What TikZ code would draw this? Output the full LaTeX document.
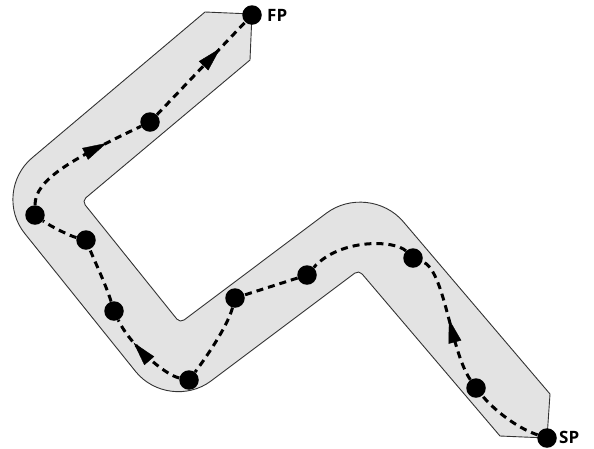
\documentclass[tikz,border=0pt]{standalone}
\usepackage{fontspec}
\setmainfont{Open Sans}
\usetikzlibrary{calc,arrows.meta,decorations.markings}
\begin{document}
\begin{tikzpicture}[x=1pt,y=-1pt,
  band/.style={fill=black!11, draw=black!80, line width=0.9pt, line join=round},
  dot/.style={circle, fill=black, inner sep=0pt, minimum size=19.5pt},
  flow/.style={line width=3pt, dash pattern=on 7pt off 5pt},
  arr/.style={postaction={decorate}, decoration={markings, mark=at position #1 with {\arrow{Triangle[length=24pt,width=13pt,line width=0.4pt]}}}},
  lab/.style={font=\bfseries\fontsize{17}{17}\selectfont, inner sep=0pt, anchor=west}
]
\useasboundingbox (0,0) rectangle (594,448);
% band outline
\coordinate (A) at (205,12);
\coordinate (B) at (252,14);
\coordinate (C) at (250,60);
\coordinate (I1) at (82,201);
\coordinate (I2) at (180,323);
\coordinate (H) at (368.9,181.3);
\coordinate (D) at (550,394);
\coordinate (E) at (547,438);
\coordinate (F) at (500,436);
\coordinate (I3) at (358.8,270.1);
\coordinate (G) at (168.7,412.7);
\coordinate (O) at (-8.5,192.1);
\path[band] (A) -- (B) -- (C)
 -- ($(I1)!5pt!(C)$) .. controls ($(I1)!2.25pt!(C)$) and ($(I1)!2.25pt!(I2)$) .. ($(I1)!5pt!(I2)$)
 -- ($(I2)!5pt!(I1)$) .. controls ($(I2)!2.25pt!(I1)$) and ($(I2)!2.25pt!(H)$) .. ($(I2)!5pt!(H)$)
 -- ($(H)!53pt!(I2)$) .. controls ($(H)!23.85pt!(I2)$) and ($(H)!23.85pt!(D)$) .. ($(H)!53pt!(D)$)
 -- (D) -- (E) -- (F)
 -- ($(I3)!5pt!(F)$) .. controls ($(I3)!2.25pt!(F)$) and ($(I3)!2.25pt!(G)$) .. ($(I3)!5pt!(G)$)
 -- ($(G)!53pt!(I3)$) .. controls ($(G)!23.85pt!(I3)$) and ($(G)!23.85pt!(O)$) .. ($(G)!53pt!(O)$)
 -- ($(O)!53pt!(G)$) .. controls ($(O)!23.85pt!(G)$) and ($(O)!23.85pt!(A)$) .. ($(O)!53pt!(A)$)
 -- cycle;
% points
\node[dot] (fp) at (252,15) {};
\node[dot] (d1) at (150,122) {};
\node[dot] (d2) at (35,215) {};
\node[dot] (d3) at (86,240) {};
\node[dot] (d4) at (114,311) {};
\node[dot] (d5) at (189,380) {};
\node[dot] (d6) at (235,298) {};
\node[dot] (d7) at (307,275) {};
\node[dot] (d8) at (413,258) {};
\node[dot] (d9) at (476,388) {};
\node[dot] (sp) at (547,438) {};
\node[lab] (fpl) at (267,15) {FP};
\node[lab] (spl) at (559,437.5) {SP};
% route
\draw[flow] (sp) .. controls (517,428) and (494,410) .. (d9);
\draw[flow, arr=0.5] (d9) .. controls (450,350) and (445,270) .. (d8);
\draw[flow] (d8) .. controls (395,240) and (340,238) .. (d7);
\draw[flow] (d7) -- (d6);
\draw[flow] (d6) .. controls (228,325) and (208,355) .. (d5);
\draw[flow, arr=0.68] (d5) .. controls (165,375) and (130,345) .. (d4);
\draw[flow] (d4) .. controls (106,285) and (95,262) .. (d3);
\draw[flow] (d3) .. controls (70,236) and (50,226) .. (d2);
\draw[flow, arr=0.72] (d2) .. controls (35,180) and (70,160) .. (d1);
\draw[flow, arr=0.72] (d1) -- (fp);
\end{tikzpicture}
\end{document}
